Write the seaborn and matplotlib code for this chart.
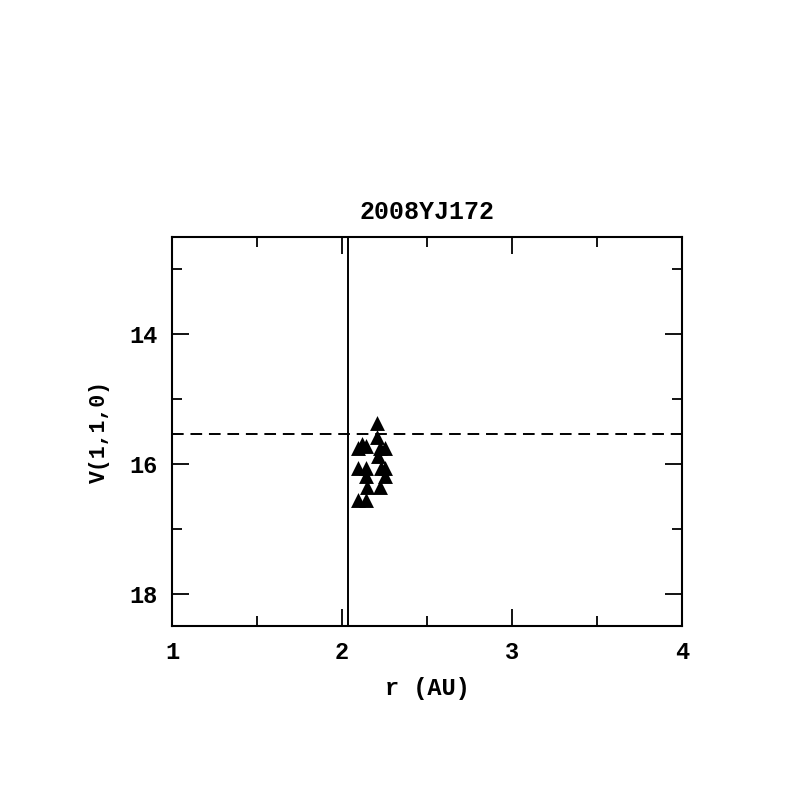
import matplotlib
matplotlib.use("Agg")
import matplotlib.pyplot as plt
import seaborn as sns
import pandas as pd
from matplotlib.ticker import MultipleLocator

# Data
r_au = [2.206, 2.206, 2.094, 2.118, 2.141, 2.224, 2.253, 2.212,
        2.094, 2.141, 2.229, 2.253, 2.141, 2.253, 2.147, 2.224, 2.094, 2.141]
v110 = [15.37, 15.58, 15.76, 15.70, 15.73, 15.76, 15.76, 15.88,
        16.07, 16.07, 16.07, 16.07, 16.19, 16.19, 16.36, 16.36, 16.55, 16.55]
title = "2008YJ172"
r_limit = 2.035
v_limit = 15.54

df = pd.DataFrame({"r": r_au, "V": v110})

sns.set_style("white")
plt.rcParams['font.family'] = ['Liberation Mono', 'DejaVu Sans']
plt.rcParams['font.weight'] = 'bold'

fig = plt.figure(figsize=(7.97, 7.97), dpi=100)
ax = fig.add_axes([0.2158, 0.2146, 0.8557 - 0.2158, 0.7026 - 0.2146])

sns.scatterplot(data=df, x="r", y="V", marker="^", s=115, color="black",
                edgecolor="black", linewidth=0, ax=ax, zorder=3)

ax.axvline(r_limit, color="black", lw=1.4)
ax.axhline(v_limit, color="black", lw=1.4, ls=(0, (6, 3.5)))

ax.set_xlim(1, 4)
ax.set_ylim(18.5, 12.5)
ax.xaxis.set_major_locator(MultipleLocator(1))
ax.xaxis.set_minor_locator(MultipleLocator(0.5))
ax.yaxis.set_major_locator(MultipleLocator(2))
ax.yaxis.set_minor_locator(MultipleLocator(1))
ax.tick_params(which="both", direction="in", top=True, right=True,
               bottom=True, left=True,
               width=1.3, colors="black", labelsize=17)
ax.tick_params(axis="x", which="major", pad=11)
ax.tick_params(axis="y", which="major", pad=10)
ax.tick_params(which="major", length=12)
ax.tick_params(which="minor", length=7)
for lab in ax.get_xticklabels() + ax.get_yticklabels():
    lab.set_fontweight("bold")
for s in ax.spines.values():
    s.set_linewidth(1.5)
    s.set_color("black")

ax.set_xlabel("r (AU)", fontsize=17, fontweight="bold", labelpad=9, color="black")
ax.set_ylabel("V(1,1,0)", fontsize=15.5, fontweight="bold", labelpad=14, color="black")
ax.set_title(title, fontsize=18, fontweight="bold", pad=13, color="black")

fig.savefig("out.png", dpi=100, facecolor="white")
